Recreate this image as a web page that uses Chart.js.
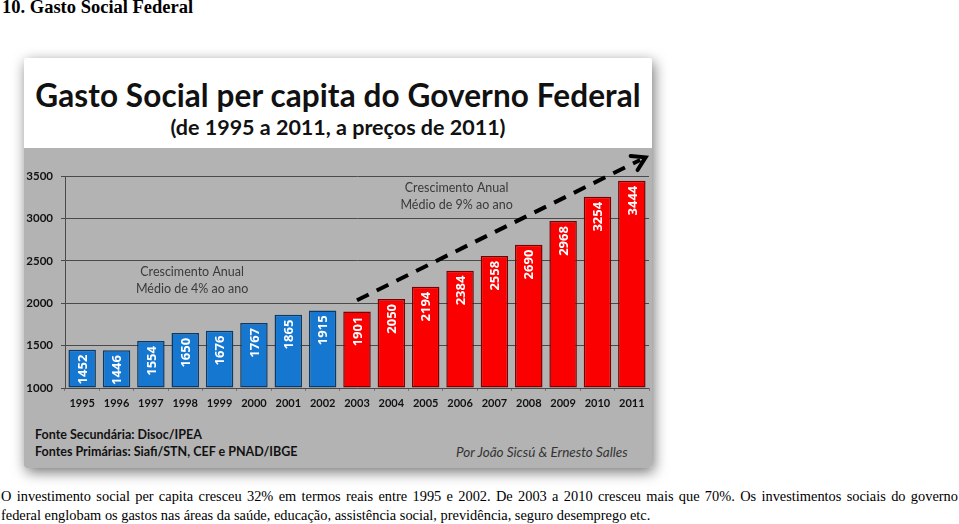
<!DOCTYPE html>
<html>
<head>
<meta charset="utf-8">
<script src="https://cdn.jsdelivr.net/npm/chart.js@4"></script>
<style>
  html, body { margin: 0; padding: 0; background: #fff; }
  body { width: 959px; height: 524px; position: relative; overflow: hidden; font-family: "Liberation Serif", serif; }
  h1 { position: absolute; left: 2px; top: -3px; margin: 0; font-size: 18.5px; font-weight: bold; color: #000; }
  #card { position: absolute; left: 24px; top: 58px; width: 628px; height: 410px;
          box-shadow: 2px 4px 14px rgba(0,0,0,0.55); border-radius: 3px; overflow: hidden; }
  #head { height: 90px; background: #fff; text-align: center; font-family: Lato, sans-serif; font-weight: bold; color: #111; }
  #head .t1 { font-size: 31.5px; padding-top: 19px; line-height: 36px; letter-spacing: 0.1px; }
  #head .t2 { font-size: 21.5px; line-height: 26px; padding-top: 1px; }
  #plot { position: relative; height: 320px; background: #b3b3b3; }
  #chartBox { position: absolute; left: 0; top: 0; width: 628px; height: 266px; }
  .foot { position: absolute; font-family: Lato, sans-serif; font-size: 12.5px; color: #111; line-height: 16px; }
  #para { position: absolute; left: 1px; top: 487px; width: 957px; font-size: 14.4px; line-height: 19px; color: #000; }
  #para .l1 { text-align: justify; text-align-last: justify; white-space: nowrap; }
</style>
</head>
<body>
<h1>10. Gasto Social Federal</h1>
<div id="card">
  <div id="head">
    <div class="t1">Gasto Social per capita do Governo Federal</div>
    <div class="t2">(de 1995 a 2011, a preços de 2011)</div>
  </div>
  <div id="plot">
    <div id="chartBox"><canvas id="myChart"></canvas></div>
    <div class="foot" style="left:11px; top:279px; font-weight:bold;">Fonte Secundária: Disoc/IPEA</div>
    <div class="foot" style="left:11px; top:296px; font-weight:bold;">Fontes Primárias: Siafi/STN, CEF e PNAD/IBGE</div>
    <div class="foot" style="left:432px; top:296px; font-style:italic; font-size:13.5px; color:#333;">Por João Sicsú &amp; Ernesto Salles</div>
  </div>
</div>
<div id="para">
  <div class="l1">O investimento social per capita cresceu 32% em termos reais entre 1995 e 2002. De 2003 a 2010 cresceu mais que 70%. Os investimentos sociais do governo</div>
  <div>federal englobam os gastos nas áreas da saúde, educação, assistência social, previdência, seguro desemprego etc.</div>
</div>

<script>
// --- Data ---
const years = ['1995', '1996', '1997', '1998', '1999', '2000', '2001', '2002', '2003',
               '2004', '2005', '2006', '2007', '2008', '2009', '2010', '2011'];
const gastoPerCapita = [1452, 1446, 1554, 1650, 1676, 1767, 1865, 1915, 1901,
                        2050, 2194, 2384, 2558, 2690, 2968, 3254, 3444];
const lastYearOfFirstPeriod = 2002;
const yTicks = [1000, 1500, 2000, 2500, 3000, 3500];

// notes drawn in data units: [category index, value]
const notes = [
    { at: [3.2, 2370], lines: ['Crescimento Anual', 'Médio de 4% ao ano'] },
    { at: [10.9, 3360], lines: ['Crescimento Anual', 'Médio de 9% ao ano'] }
];
const trendFrom = [8, 2035];
const trendTo = [16.4, 3720];

const BLUE = '#1577d0', BLUE_EDGE = '#0b3a66';
const RED = '#fa0000', RED_EDGE = '#7a0000';
const isFirst = i => Number(years[i]) <= lastYearOfFirstPeriod;

// --- Plugin: labels inside bars, trend arrow and notes ---
const extras = {
    id: 'extras',
    afterDatasetsDraw(chart) {
        const { ctx, scales: { x, y } } = chart;
        const meta = chart.getDatasetMeta(0);

        // rotated values inside the bars
        ctx.save();
        ctx.fillStyle = '#fff';
        ctx.font = 'bold 13px "Open Sans", sans-serif';
        ctx.textAlign = 'right';
        ctx.textBaseline = 'middle';
        meta.data.forEach((bar, i) => {
            ctx.save();
            ctx.translate(bar.x, bar.y + 5);
            ctx.rotate(-Math.PI / 2);
            ctx.fillText(String(gastoPerCapita[i]), 0, 1);
            ctx.restore();
        });
        ctx.restore();

        // notes
        ctx.save();
        ctx.fillStyle = '#3a3a3a';
        ctx.font = '12.5px Lato, sans-serif';
        ctx.textAlign = 'center';
        ctx.textBaseline = 'middle';
        notes.forEach(n => {
            const px = x.getPixelForValue(n.at[0]);
            const py = y.getPixelForValue(n.at[1]);
            n.lines.forEach((t, k) => ctx.fillText(t, px, py + k * 17));
        });
        ctx.restore();

        // dashed trend arrow
        const x0 = x.getPixelForValue(trendFrom[0]), y0 = y.getPixelForValue(trendFrom[1]);
        const x1 = x.getPixelForValue(trendTo[0]), y1 = y.getPixelForValue(trendTo[1]);
        const ang = Math.atan2(y1 - y0, x1 - x0);
        ctx.save();
        ctx.strokeStyle = '#000';
        ctx.lineWidth = 4;
        ctx.setLineDash([13, 9]);
        ctx.beginPath();
        ctx.moveTo(x0, y0);
        ctx.lineTo(x1 - 6 * Math.cos(ang), y1 - 6 * Math.sin(ang));
        ctx.stroke();
        ctx.setLineDash([]);
        ctx.lineWidth = 4;
        ctx.lineCap = 'round';
        ctx.lineJoin = 'miter';
        const head = 15;
        ctx.beginPath();
        ctx.moveTo(x1 - head * Math.cos(ang - 0.55), y1 - head * Math.sin(ang - 0.55));
        ctx.lineTo(x1, y1);
        ctx.lineTo(x1 - head * Math.cos(ang + 0.55), y1 - head * Math.sin(ang + 0.55));
        ctx.stroke();
        ctx.restore();
    }
};

new Chart(document.getElementById('myChart'), {
    type: 'bar',
    data: {
        labels: years,
        datasets: [{
            data: gastoPerCapita,
            backgroundColor: ctx => isFirst(ctx.dataIndex) ? BLUE : RED,
            borderColor: ctx => isFirst(ctx.dataIndex) ? BLUE_EDGE : RED_EDGE,
            borderWidth: 1.5,
            borderSkipped: false,
            barPercentage: 0.8,
            categoryPercentage: 1.0,
            base: 1000
        }]
    },
    options: {
        responsive: true,
        maintainAspectRatio: false,
        animation: false,
        layout: { padding: { top: 28, right: 3, left: 0, bottom: 0 } },
        plugins: {
            legend: { display: false },
            tooltip: { enabled: false }
        },
        scales: {
            x: {
                grid: { display: true, drawOnChartArea: false, color: '#777', tickLength: 3 },
                border: { display: false },
                ticks: { color: '#111', padding: 6, font: { family: 'Lato', weight: 'bold', size: 11 } },
                afterFit: s => { s.height = 26; }
            },
            y: {
                min: 1000,
                max: 3500,
                afterBuildTicks: s => { s.ticks = yTicks.map(v => ({ value: v })); },
                grid: { color: '#4a4a4a', lineWidth: 1, tickLength: 4 },
                border: { color: '#4a4a4a', width: 1 },
                ticks: {
                    color: '#111', padding: 8,
                    font: { family: 'Lato', weight: 'bold', size: 11.5 },
                    callback: v => String(v)
                },
                afterFit: s => { s.width = 41; }
            }
        }
    },
    plugins: [extras]
});
</script>
</body>
</html>
